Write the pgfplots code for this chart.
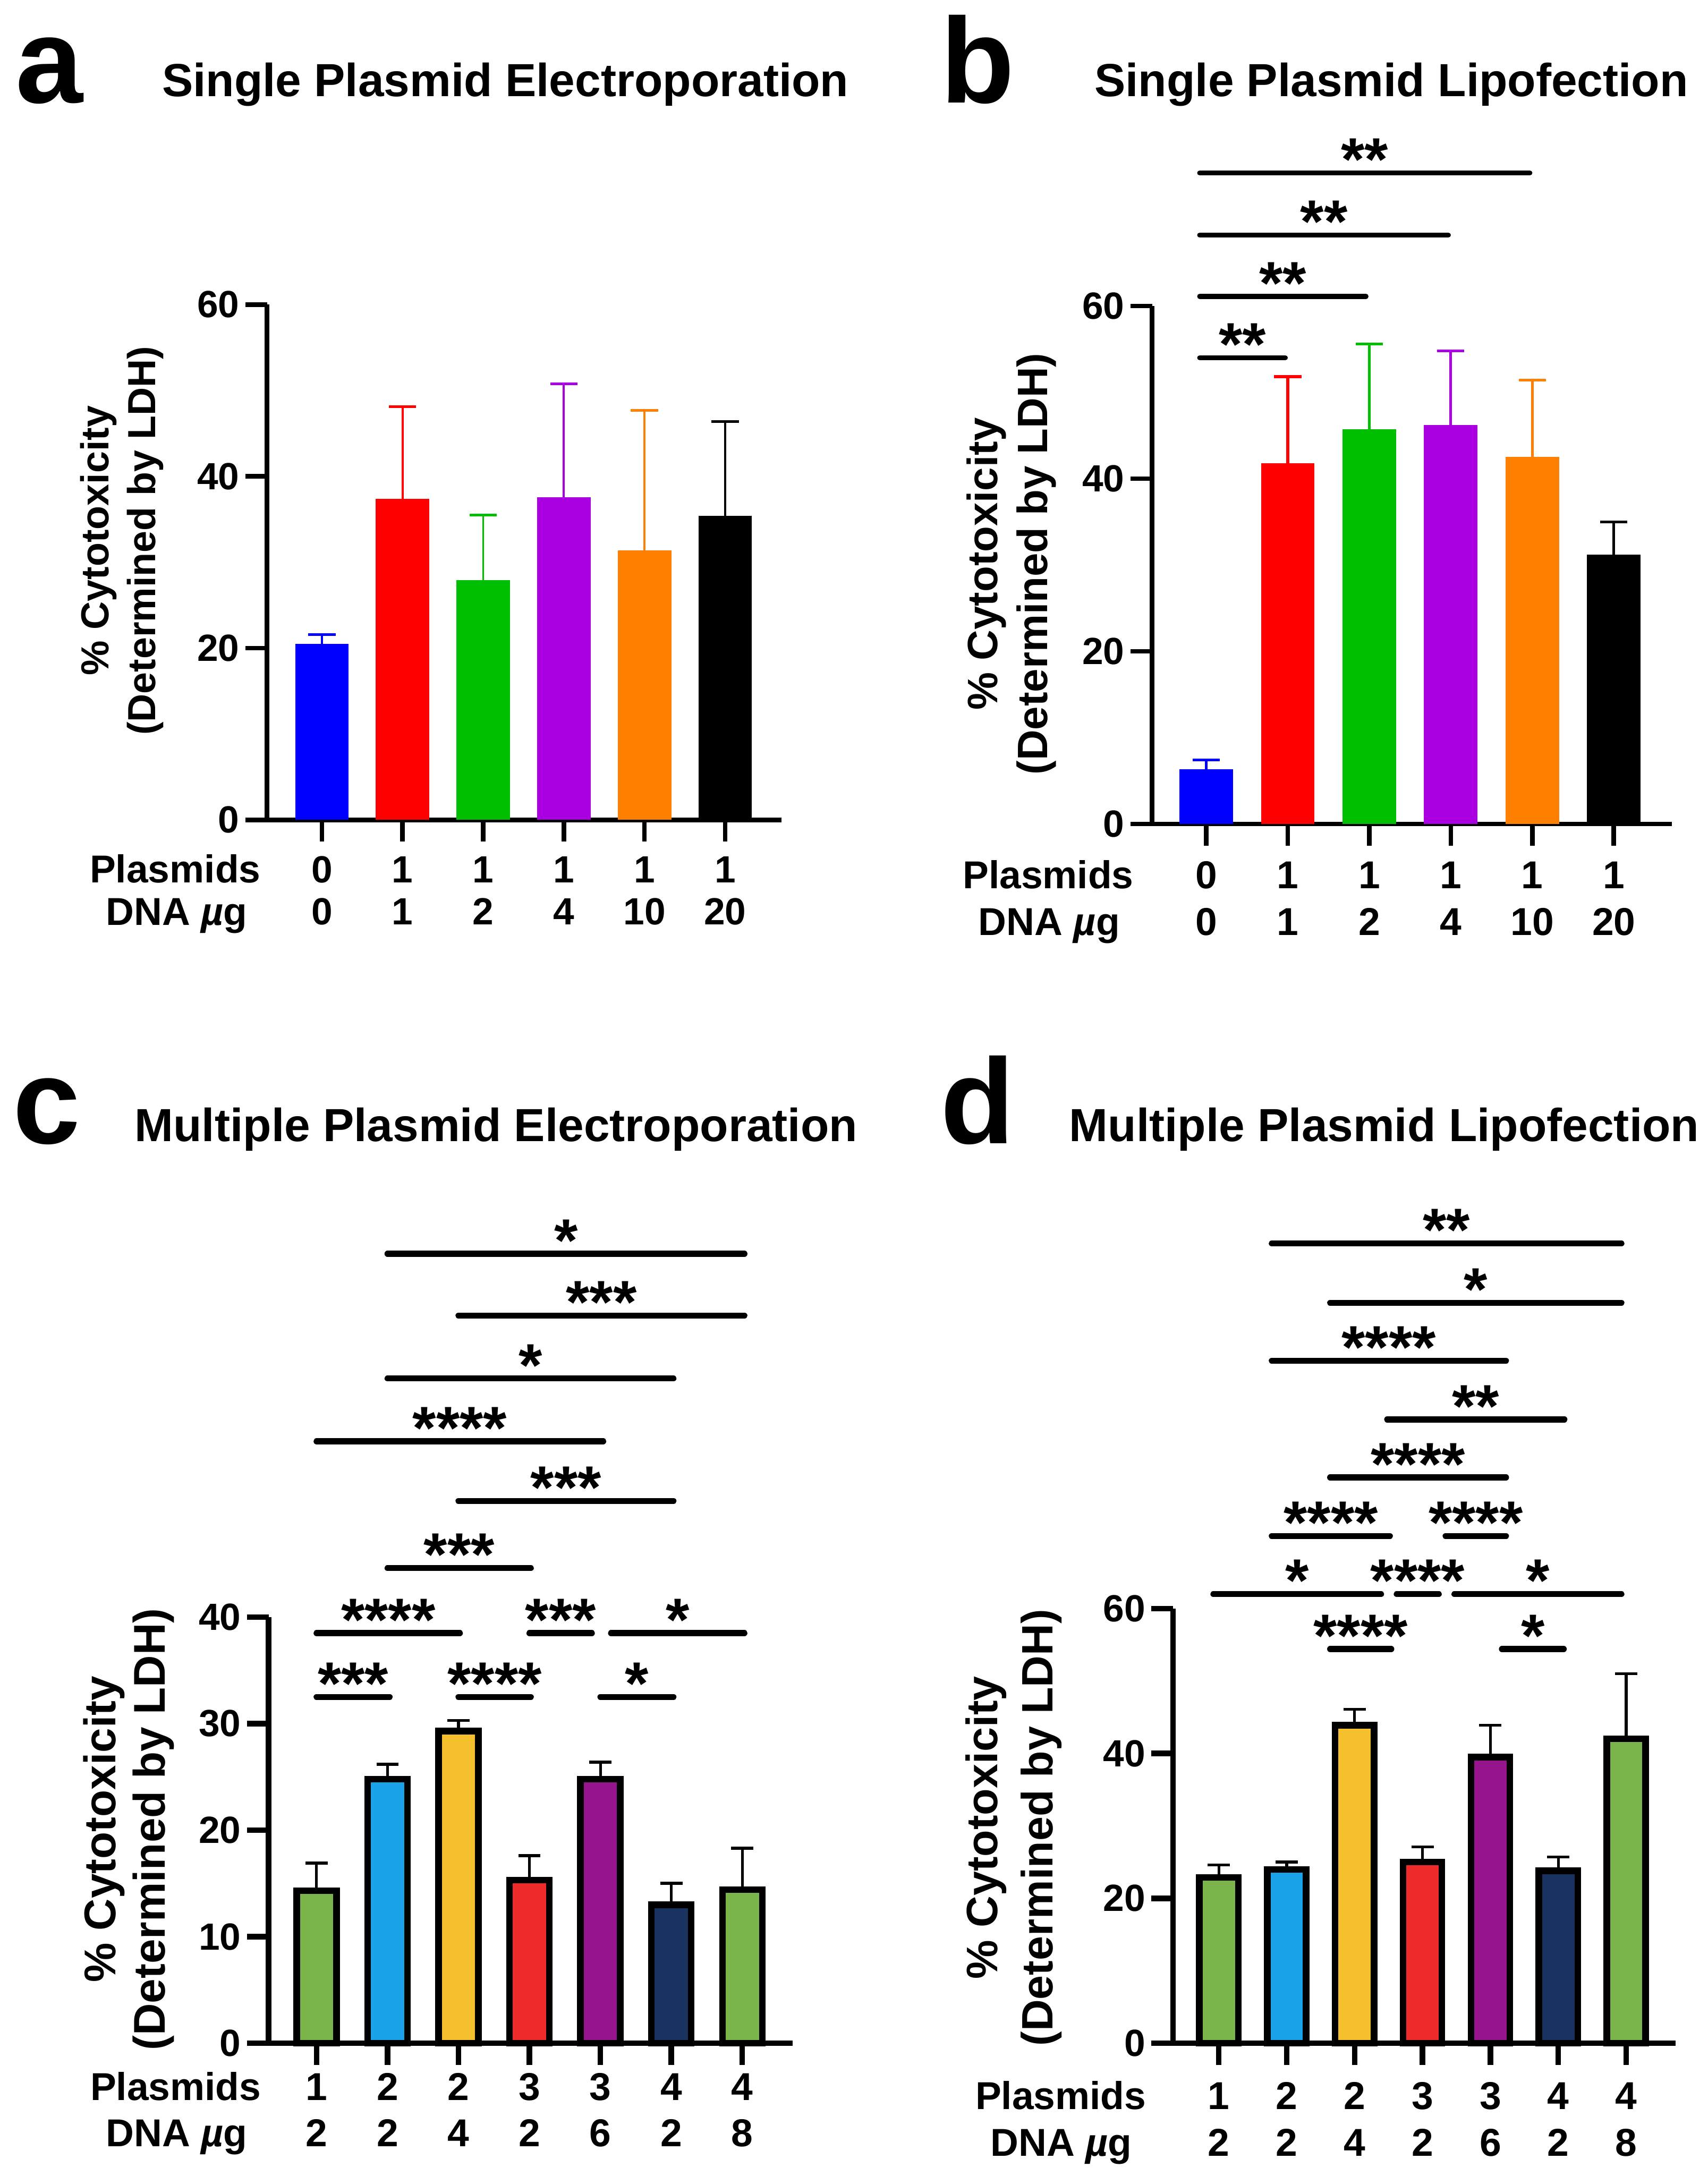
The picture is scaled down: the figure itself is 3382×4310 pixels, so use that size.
\documentclass[border=0pt]{standalone}
\usepackage{fontspec}
\setmainfont{Liberation Sans}
\usepackage{pgfplots}
\pgfplotsset{compat=1.18}

\definecolor{cblue}{RGB}{0,0,255}
\definecolor{cred}{RGB}{255,0,0}
\definecolor{cgreen}{RGB}{0,190,0}
\definecolor{cpurple}{RGB}{170,0,225}
\definecolor{corange}{RGB}{255,128,0}
\definecolor{mgreen}{RGB}{122,180,74}
\definecolor{mblue}{RGB}{26,163,232}
\definecolor{myellow}{RGB}{245,192,46}
\definecolor{mred}{RGB}{238,42,42}
\definecolor{mpurple}{RGB}{150,20,140}
\definecolor{mnavy}{RGB}{26,50,95}

\newcommand{\starfont}{\bfseries\fontsize{24}{24}\selectfont}
\def\siglw{2.4pt}
\tikzset{sigline/.style={line width=\siglw, line cap=round}}
\newcommand{\sig}[4]{\draw[sigline] (axis cs:#1,#3) -- (axis cs:#2,#3) node[midway,anchor=base,yshift=-3pt,inner sep=0pt,font=\starfont]{#4};}

\pgfplotsset{
  panel/.style={
    scale only axis, clip=false,
    axis x line=bottom, axis y line=left,
    axis line style={-, line width=#1, black},
    tick align=outside, major tick length=8.6pt,
    tick style={line width=#1, black},
    ymin=0, xtick={0,...,6}, minor tick num=0,
    /pgf/number format/assume math mode=true,
    yticklabel style={font=\bfseries\fontsize{15}{15}\selectfont, anchor=east, inner sep=0pt, xshift=-2.2pt},
    ylabel style={font=\bfseries\fontsize{15.5}{18.4}\selectfont, align=center, anchor=center, rotate=0},
  },
}

% thin coloured error bars (panels a, b)
\newcommand{\barA}[4]{\addplot[ybar, bar shift=0pt, fill=#1, draw=none,
   error bars/.cd, y dir=plus, y explicit,
   error bar style={#1, line width=#4},
   error mark options={#1, line width=1.1pt, rotate=90, mark size=5.4pt}]
   coordinates {(#2) +- (0,#3)};}
% outlined bars (panels c, d)
\newcommand{\barC}[3]{\addplot[ybar, bar shift=0pt, fill=#1, draw=black, line width=2.6pt,
   error bars/.cd, y dir=plus, y explicit,
   error bar style={black, line width=1.1pt},
   error mark options={black, line width=1.2pt, rotate=90, mark size=4.4pt}]
   coordinates {(#2) +- (0,#3)};}

\begin{document}
\begin{tikzpicture}[x=0.2pt,y=0.2pt]
\useasboundingbox (0,0) rectangle (3382,4310);

% ---------- panel letters and titles ----------
\node[anchor=base west, inner sep=0pt, font=\bfseries\fontsize{48}{48}\selectfont] at (30,4106) {a};
\node[anchor=base west, inner sep=0pt, font=\bfseries\fontsize{48}{48}\selectfont] at (1862,4106) {b};
\node[anchor=base west, inner sep=0pt, font=\bfseries\fontsize{48}{48}\selectfont] at (25,2045) {c};
\node[anchor=base west, inner sep=0pt, font=\bfseries\fontsize{48}{48}\selectfont] at (1862,2045) {d};
\node[anchor=base west, inner sep=0pt, font=\bfseries\fontsize{18.4}{18.4}\selectfont] at (320,4119) {Single Plasmid Electroporation};
\node[anchor=base west, inner sep=0pt, font=\bfseries\fontsize{18.4}{18.4}\selectfont] at (2167,4119) {Single Plasmid Lipofection};
\node[anchor=base west, inner sep=0pt, font=\bfseries\fontsize{18.4}{18.4}\selectfont] at (266,2049) {Multiple Plasmid Electroporation};
\node[anchor=base west, inner sep=0pt, font=\bfseries\fontsize{18.4}{18.4}\selectfont] at (2117,2049) {Multiple Plasmid Lipofection};

% ---------- row headers ----------
\begin{scope}[every node/.style={anchor=base, inner sep=0pt, font=\bfseries\fontsize{15.4}{15.4}\selectfont}]
\node at (347,2562) {Plasmids};
\node at (350,2478) {DNA \textit{µ}g};
\node at (2076,2550) {Plasmids};
\node at (2078,2457) {DNA \textit{µ}g};
\node at (348,150) {Plasmids};
\node at (350,58) {DNA \textit{µ}g};
\node at (2101,132) {Plasmids};
\node at (2102,39) {DNA \textit{µ}g};
\end{scope}

% ---------- panel a ----------
\begin{axis}[panel=1.8pt, at={(105.8pt,537.2pt)}, anchor=south west,
  width=203.8pt, height=204.1pt, xmin=-0.68, xmax=5.70, ymax=60,
  ytick={0,20,40,60}, bar width=21.2pt,
  xticklabel style={font=\bfseries\fontsize{15}{16.8}\selectfont, align=center, anchor=base, inner sep=0pt, yshift=-33pt},
  xticklabels={{0\\0},{1\\1},{1\\2},{1\\4},{1\\10},{1\\20}},
  ylabel={\% Cytotoxicity\\(Determined by LDH)},
  ylabel style={at={(axis description cs:-0.282,0.542)}}]
\barA{cblue}{0,20.5}{1.1}{0.8pt}
\barA{cred}{1,37.4}{10.7}{0.8pt}
\barA{cgreen}{2,27.9}{7.6}{0.8pt}
\barA{cpurple}{3,37.6}{13.2}{0.8pt}
\barA{corange}{4,31.4}{16.3}{0.8pt}
\barA{black}{5,35.4}{11.0}{0.8pt}
\end{axis}

% ---------- panel b ----------
\def\siglw{2pt}
\begin{axis}[panel=1.8pt, at={(456.4pt,535.6pt)}, anchor=south west,
  width=205.8pt, height=205.2pt, xmin=-0.663, xmax=5.71, ymax=60,
  ytick={0,20,40,60}, bar width=21.2pt,
  xticklabel style={font=\bfseries\fontsize{15.4}{18.6}\selectfont, align=center, anchor=base, inner sep=0pt, yshift=-35.6pt},
  xticklabels={{0\\0},{1\\1},{1\\2},{1\\4},{1\\10},{1\\20}},
  ylabel={\% Cytotoxicity\\(Determined by LDH)},
  ylabel style={font=\bfseries\fontsize{16.8}{19.8}\selectfont, at={(axis description cs:-0.271,0.502)}}]
\barA{cblue}{0,6.35}{1.05}{1.1pt}
\barA{cred}{1,41.75}{10.05}{1.1pt}
\barA{cgreen}{2,45.7}{9.9}{1.1pt}
\barA{cpurple}{3,46.2}{8.6}{1.1pt}
\barA{corange}{4,42.5}{8.9}{1.1pt}
\barA{black}{5,31.2}{3.8}{1.1pt}
\sig{-0.08}{0.97}{54.0}{**}
\sig{-0.08}{1.96}{61.1}{**}
\sig{-0.08}{2.97}{68.2}{**}
\sig{-0.08}{3.97}{75.4}{**}
\end{axis}
\def\siglw{2.4pt}

% ---------- panel c ----------
\begin{axis}[panel=2.2pt, at={(106.4pt,52.6pt)}, anchor=south west,
  width=207.6pt, height=168.8pt, xmin=-0.676, xmax=6.71, ymax=40,
  ytick={0,10,20,30,40}, bar width=15.8pt,
  xticklabel style={font=\bfseries\fontsize{15.4}{18.4}\selectfont, align=center, anchor=base, inner sep=0pt, yshift=-32.4pt},
  xticklabels={{1\\2},{2\\2},{2\\4},{3\\2},{3\\6},{4\\2},{4\\8}},
  ylabel={\% Cytotoxicity\\(Determined by LDH)},
  ylabel style={font=\bfseries\fontsize{17.6}{19.6}\selectfont, at={(axis description cs:-0.267,0.502)}}]
\barC{mgreen}{0,14.3}{2.6}
\barC{mblue}{1,24.8}{1.4}
\barC{myellow}{2,29.3}{1.0}
\barC{mred}{3,15.3}{2.3}
\barC{mpurple}{4,24.8}{1.6}
\barC{mnavy}{5,13.0}{2.0}
\barC{mgreen}{6,14.4}{3.9}
\sig{0}{1.03}{32.5}{***}
\sig{2.0}{3.02}{32.5}{****}
\sig{4.0}{5.03}{32.5}{*}
\sig{0}{2.02}{38.5}{****}
\sig{3.0}{3.88}{38.5}{***}
\sig{4.15}{6.03}{38.5}{*}
\sig{1.0}{3.02}{44.6}{***}
\sig{2.0}{5.03}{50.9}{***}
\sig{0}{4.04}{56.5}{****}
\sig{1.0}{5.03}{62.4}{*}
\sig{2.0}{6.03}{68.3}{***}
\sig{1.0}{6.03}{74.1}{*}
\end{axis}

% ---------- panel d ----------
\begin{axis}[panel=2.2pt, at={(464.7pt,52.6pt)}, anchor=south west,
  width=199.1pt, height=172.2pt, xmin=-0.673, xmax=6.73, ymax=60,
  ytick={0,20,40,60}, bar width=15.4pt,
  xticklabel style={font=\bfseries\fontsize{15.4}{18.6}\selectfont, align=center, anchor=base, inner sep=0pt, yshift=-36.2pt},
  xticklabels={{1\\2},{2\\2},{2\\4},{3\\2},{3\\6},{4\\2},{4\\8}},
  ylabel={\% Cytotoxicity\\(Determined by LDH)},
  ylabel style={font=\bfseries\fontsize{17.4}{22}\selectfont, at={(axis description cs:-0.317,0.496)}}]
\barC{mgreen}{0,22.9}{1.7}
\barC{mblue}{1,24.0}{1.0}
\barC{myellow}{2,43.9}{2.2}
\barC{mred}{3,25.0}{2.1}
\barC{mpurple}{4,39.5}{4.4}
\barC{mnavy}{5,23.8}{1.9}
\barC{mgreen}{6,42.0}{9.0}
\sig{1.64}{2.54}{54.4}{****}
\sig{4.17}{5.08}{54.4}{*}
\sig{-0.08}{2.39}{62.0}{*}
\sig{2.62}{3.24}{62.0}{****}
\sig{3.47}{5.93}{62.0}{*}
\sig{0.78}{2.52}{70.0}{****}
\sig{3.34}{4.23}{70.0}{****}
\sig{1.64}{4.23}{78.1}{****}
\sig{2.48}{5.09}{86.1}{**}
\sig{0.78}{4.23}{94.2}{****}
\sig{1.64}{5.93}{102.2}{*}
\sig{0.78}{5.93}{110.4}{**}
\end{axis}
\end{tikzpicture}
\end{document}
